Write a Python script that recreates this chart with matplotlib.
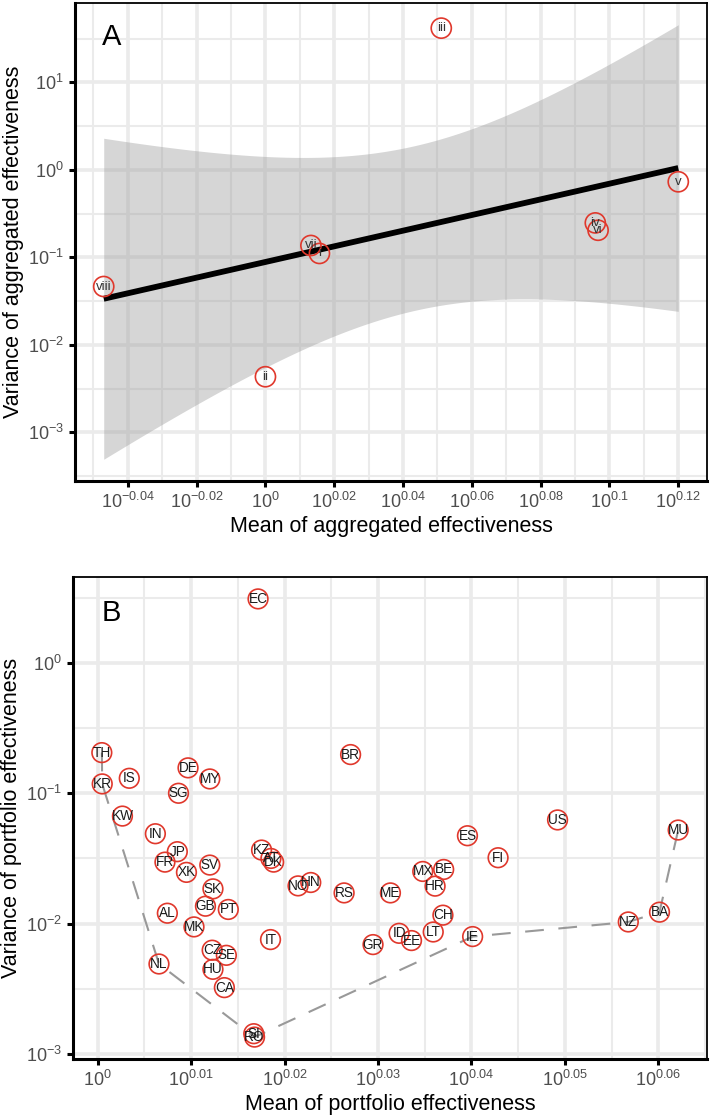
import numpy as np
import matplotlib
matplotlib.use("Agg")
import matplotlib.pyplot as plt
from matplotlib.ticker import FixedLocator, NullFormatter

plt.rcParams['font.family'] = ['Liberation Sans', 'DejaVu Sans']
plt.rcParams['mathtext.fontset'] = 'custom'
plt.rcParams['mathtext.rm'] = 'Liberation Sans'
plt.rcParams['mathtext.it'] = 'Liberation Sans'

# -----------------------------
# Data: panel A (aggregated)
# -----------------------------
A_LABELS = ["i", "ii", "iii", "iv", "v", "vi", "vii", "viii"]
A_MEAN = [1.0368, 1.0000, 1.1249, 1.2471, 1.3183, 1.2494, 1.0309, 0.8974]
A_VAR = [0.1109, 0.004325, 41.69, 0.2477, 0.7311, 0.2042, 0.1368, 0.04645]

A_XTICKS = [-0.04, -0.02, 0.0, 0.02, 0.04, 0.06, 0.08, 0.1, 0.12]
A_YTICKS = [-3, -2, -1, 0, 1]

# -----------------------------
# Data: panel B (portfolios)
# -----------------------------
B_LABELS = ["TH", "KR", "IS", "DE", "MY", "SG", "BR", "EC", "KW", "IN",
            "JP", "FR", "XK", "SV", "SK", "GB", "PT", "AL", "MK", "CZ",
            "SE", "HU", "CA", "NL", "SI", "RO", "IT", "KZ", "AT", "DK",
            "NO", "HN", "RS", "GR", "US", "MU", "ES", "FI", "MX", "BE",
            "HR", "ME", "CH", "LT", "ID", "EE", "IE", "NZ", "BA"]
B_MEAN = [1.0010, 1.0011, 1.0078, 1.0225, 1.0280, 1.0201, 1.0643, 1.0403, 1.0061, 1.0143,
          1.0198, 1.0167, 1.0221, 1.0280, 1.0288, 1.0269, 1.0327, 1.0173, 1.0240, 1.0286,
          1.0322, 1.0288, 1.0317, 1.0152, 1.0392, 1.0394, 1.0435, 1.0412, 1.0436, 1.0443,
          1.0506, 1.0539, 1.0626, 1.0702, 1.1200, 1.1538, 1.0954, 1.1037, 1.0834, 1.0890,
          1.0867, 1.0748, 1.0888, 1.0862, 1.0771, 1.0804, 1.0968, 1.1397, 1.1485]
B_VAR = [0.2051, 0.1180, 0.1303, 0.1567, 0.1288, 0.1000, 0.1982, 3.105, 0.0668, 0.0489,
         0.0356, 0.0296, 0.0247, 0.0281, 0.01845, 0.01358, 0.01282, 0.0120, 0.00942, 0.00624,
         0.00570, 0.00445, 0.00322, 0.00489, 0.001426, 0.001343, 0.00753, 0.03664, 0.0316, 0.0296,
         0.01945, 0.02065, 0.01718, 0.00689, 0.0624, 0.0522, 0.0472, 0.0320, 0.0251, 0.0260,
         0.01936, 0.01718, 0.01159, 0.00861, 0.00841, 0.00740, 0.00794, 0.01028, 0.01222]
B_FRONTIER = ["TH", "KR", "NL", "RO", "IE", "NZ", "BA", "MU"]

B_XTICKS = [0.0, 0.01, 0.02, 0.03, 0.04, 0.05, 0.06]
B_YTICKS = [-3, -2, -1, 0]

RED = "#e0382c"
GRID = "#ebebeb"
T_CRIT_6DF = 2.447   # t(0.975, df=6) for the lm confidence band


def fmt_exp(v):
    s = f"{v:g}"
    return r"$10^{" + s.replace("-", "\u2212") + "}$"


def expand(lo, hi, frac=0.05):
    d = (hi - lo) * frac
    return lo - d, hi + d


def style_axes(ax, xt, yt, xlim, ylim):
    ax.set_xscale("log")
    ax.set_yscale("log")
    ax.set_xlim(10 ** xlim[0], 10 ** xlim[1])
    ax.set_ylim(10 ** ylim[0], 10 ** ylim[1])

    step = xt[1] - xt[0]
    ax.xaxis.set_major_locator(FixedLocator([10 ** v for v in xt]))
    ax.xaxis.set_minor_locator(FixedLocator([10 ** (v + step / 2) for v in [xt[0] - step] + xt]))
    ax.yaxis.set_major_locator(FixedLocator([10.0 ** v for v in yt]))
    ax.yaxis.set_minor_locator(FixedLocator([10.0 ** (v + 0.5) for v in [yt[0] - 1] + yt]))
    ax.set_xticklabels([fmt_exp(v) for v in xt])
    ax.set_yticklabels([fmt_exp(v) for v in yt])
    ax.xaxis.set_minor_formatter(NullFormatter())
    ax.yaxis.set_minor_formatter(NullFormatter())

    ax.grid(which="major", color=GRID, lw=2.6, zorder=0)
    ax.grid(which="minor", color=GRID, lw=1.5, zorder=0)
    ax.set_axisbelow(True)

    ax.tick_params(which="major", length=4, width=2.2, color="black",
                   labelsize=13, labelcolor="#4d4d4d", pad=4)
    ax.tick_params(which="minor", length=0)
    for side in ["left", "bottom"]:
        ax.spines[side].set_linewidth(2.2)
    for side in ["top", "right"]:
        ax.spines[side].set_linewidth(1.3)


fig = plt.figure(figsize=(7.1, 11.16), dpi=100)

# -----------------------------
# Panel A
# -----------------------------
axA = fig.add_axes([75 / 710, 1 - 481 / 1116, (707 - 75) / 710, (481 - 3) / 1116])

lx = np.log10(A_MEAN)
ly = np.log10(A_VAR)
coef = np.polyfit(lx, ly, 1)
xs = np.linspace(lx.min(), lx.max(), 200)
fit = np.polyval(coef, xs)
resid = ly - np.polyval(coef, lx)
s = np.sqrt(np.sum(resid ** 2) / (lx.size - 2))
se = s * np.sqrt(1.0 / lx.size + (xs - lx.mean()) ** 2 / np.sum((lx - lx.mean()) ** 2))
lo, hi = fit - T_CRIT_6DF * se, fit + T_CRIT_6DF * se

xlimA = expand(lx.min(), lx.max())
ylimA = expand(min(ly.min(), lo.min()), max(ly.max(), hi.max()))
style_axes(axA, A_XTICKS, A_YTICKS, xlimA, ylimA)

axA.fill_between(10 ** xs, 10 ** lo, 10 ** hi, color="#999999", alpha=0.4, lw=0, zorder=1)
axA.plot(10 ** xs, 10 ** fit, color="black", lw=4.2, solid_capstyle="butt", zorder=2)
axA.scatter(A_MEAN, A_VAR, s=210, facecolors="none", edgecolors=RED, linewidths=1.2, zorder=3)
for lab, xv, yv in zip(A_LABELS, A_MEAN, A_VAR):
    axA.text(xv, yv, lab, ha="center", va="center", fontsize=9.5, color="#333333", zorder=4)

axA.text(0.043, 0.928, "A", transform=axA.transAxes, fontsize=21, ha="left", va="center")
axA.set_xlabel("Mean of aggregated effectiveness", fontsize=15.5, labelpad=3)
axA.set_ylabel("Variance of aggregated effectiveness", fontsize=15.5, labelpad=3)

# -----------------------------
# Panel B
# -----------------------------
axB = fig.add_axes([73 / 710, 1 - 1059 / 1116, (707 - 73) / 710, (1059 - 577) / 1116])

bx = np.log10(B_MEAN)
by = np.log10(B_VAR)
xlimB = expand(bx.min(), bx.max())
ylimB = expand(by.min(), by.max())
style_axes(axB, B_XTICKS, B_YTICKS, xlimB, ylimB)

idx = [B_LABELS.index(c) for c in B_FRONTIER]
axB.plot([B_MEAN[i] for i in idx], [B_VAR[i] for i in idx], color="#999999",
         lw=1.5, dashes=(9, 7), zorder=2)
axB.scatter(B_MEAN, B_VAR, s=200, facecolors="none", edgecolors=RED, linewidths=1.2, zorder=3)
for lab, xv, yv in zip(B_LABELS, B_MEAN, B_VAR):
    axB.text(xv, yv, lab, ha="center", va="center", fontsize=9.8, color="#1a1a1a", zorder=4)

axB.text(0.045, 0.925, "B", transform=axB.transAxes, fontsize=21, ha="left", va="center")
axB.set_xlabel("Mean of portfolio effectiveness", fontsize=15.5, labelpad=3)
axB.set_ylabel("Variance of portfolio effectiveness", fontsize=15.5, labelpad=3)

fig.savefig("out.png", dpi=100)
